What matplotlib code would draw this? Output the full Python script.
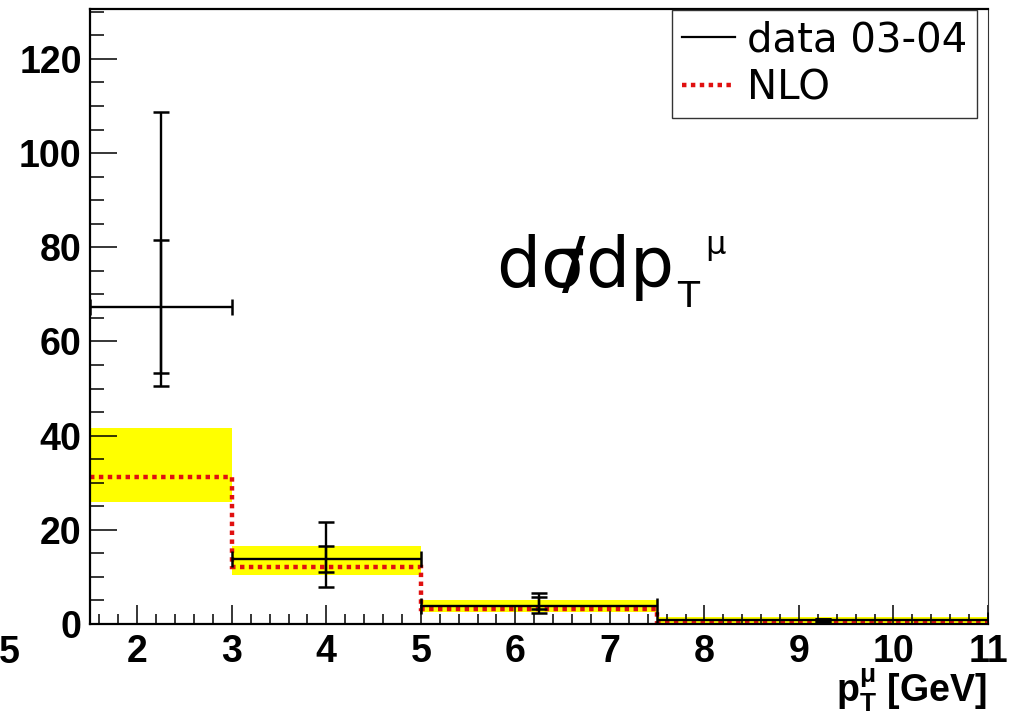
import numpy as np
import matplotlib
matplotlib.use('Agg')
import matplotlib.pyplot as plt
from matplotlib.lines import Line2D
from matplotlib.ticker import MultipleLocator

plt.rcParams['font.family'] = ['Liberation Sans', 'DejaVu Sans']
plt.rcParams['mathtext.fontset'] = 'custom'
plt.rcParams['mathtext.rm'] = 'Liberation Sans'
plt.rcParams['mathtext.bf'] = 'Liberation Sans:bold'

# bins en pT du muon (GeV)
edges = [1.5, 3.0, 5.0, 7.5, 11.0]
# données 03-04
data_x = [2.25, 4.0, 6.25, 9.25]
data_y = [67.4, 13.8, 3.9, 0.8]
stat_lo = [53.2, 11.0, 3.1, 0.6]
stat_hi = [81.6, 16.6, 5.8, 1.0]
tot_lo = [50.6, 7.9, 2.3, 0.5]
tot_hi = [108.8, 21.6, 6.6, 1.1]
# prédiction NLO + bande d'incertitude
nlo = [31.3, 12.0, 3.1, 0.5]
nlo_lo = [26.0, 10.3, 2.6, 0.3]
nlo_hi = [41.6, 16.6, 5.2, 1.4]

W, H = 1014, 719
fig = plt.figure(figsize=(W/100, H/100), dpi=100)
ax = fig.add_axes([90/W, 1-624/H, 898/W, 615/H])

def px(x, y):
    return x/W, 1-y/H

edges = np.array(edges)
widths = np.diff(edges)
data_x = np.array(data_x); data_y = np.array(data_y)

# bande jaune
ax.bar(edges[:-1], np.array(nlo_hi)-np.array(nlo_lo), bottom=nlo_lo, width=widths,
       align='edge', color='#ffff00', linewidth=0, zorder=1)
# NLO
ax.stairs(nlo, edges, baseline=None, color='#e01010', linewidth=3.2,
          linestyle=(0, (1, 1)), zorder=2)
# erreurs totales + largeur de bin, puis erreurs stat
xerr = np.array([data_x-edges[:-1], edges[1:]-data_x])
yerr_tot = np.array([data_y-np.array(tot_lo), np.array(tot_hi)-data_y])
yerr_stat = np.array([data_y-np.array(stat_lo), np.array(stat_hi)-data_y])
ax.errorbar(data_x, data_y, xerr=xerr, yerr=yerr_tot, fmt='none', ecolor='black',
            elinewidth=1.7, capsize=5.8, capthick=1.8, zorder=3)
ax.errorbar(data_x, data_y, yerr=yerr_stat, fmt='none', ecolor='black',
            elinewidth=1.7, capsize=5.8, capthick=1.8, zorder=3)

ax.set_xlim(1.5, 11)
ax.set_ylim(0, 130.6)
ax.xaxis.set_minor_locator(MultipleLocator(0.2))
ax.yaxis.set_major_locator(MultipleLocator(20))
ax.yaxis.set_minor_locator(MultipleLocator(5))
ax.set_xticks(range(2, 12))
ax.tick_params(axis='x', which='major', direction='in', length=13.7, width=1.1, pad=7,
               labelsize=27)
ax.tick_params(axis='x', which='minor', direction='in', length=7, width=1.1)
ax.tick_params(axis='y', which='major', direction='in', length=19.5, width=1.1, pad=6,
               labelsize=27)
ax.tick_params(axis='y', which='minor', direction='in', length=10, width=1.1)
for lab in ax.get_xticklabels() + ax.get_yticklabels():
    lab.set_fontweight('bold')
for s in ['left', 'bottom', 'top']:
    ax.spines[s].set_linewidth(1.6)
ax.spines['right'].set_linewidth(0.8)
ax.spines['right'].set_color('#333333')

# légende
handles = [Line2D([], [], color='black', linewidth=1.6),
           Line2D([], [], color='#e01010', linewidth=3.2, linestyle=(0, (1, 1)))]
leg = ax.legend(handles, ['data 03-04', 'NLO'], loc='upper right',
                bbox_to_anchor=((977-90)/898, 1-1/615), borderaxespad=0,
                prop={'family': 'DejaVu Sans', 'size': 29}, fancybox=False,
                framealpha=1, edgecolor='#333333', handlelength=1.3,
                handletextpad=0.3, labelspacing=0.2, borderpad=0.25)
leg.get_frame().set_linewidth(1.0)

# titre dans le cadre : dσ/dpT^μ (le "/" chevauche le sigma comme dans l'original)
tfont = {'family': 'DejaVu Sans', 'va': 'baseline'}
fig.text(*px(496, 287), r'd$\mathrm{σ}\!\!/$dp', fontsize=50,
         math_fontfamily='dejavusans', **tfont)
fig.text(*px(677, 307), 'T', fontsize=26, **tfont)
fig.text(*px(705, 254), 'μ', fontsize=23, **tfont)

# titre de l'axe x
fig.text(*px(987, 702), r'$\mathbf{p}_\mathbf{T}^\mathbf{μ}$ [GeV]', fontsize=27,
         fontweight='bold', ha='right', va='baseline')
# reste du label "1.5" coupé au bord
fig.text(*px(-1, 635), '5', fontsize=27, fontweight='bold', ha='left', va='top')

fig.savefig('out.png', dpi=100)
